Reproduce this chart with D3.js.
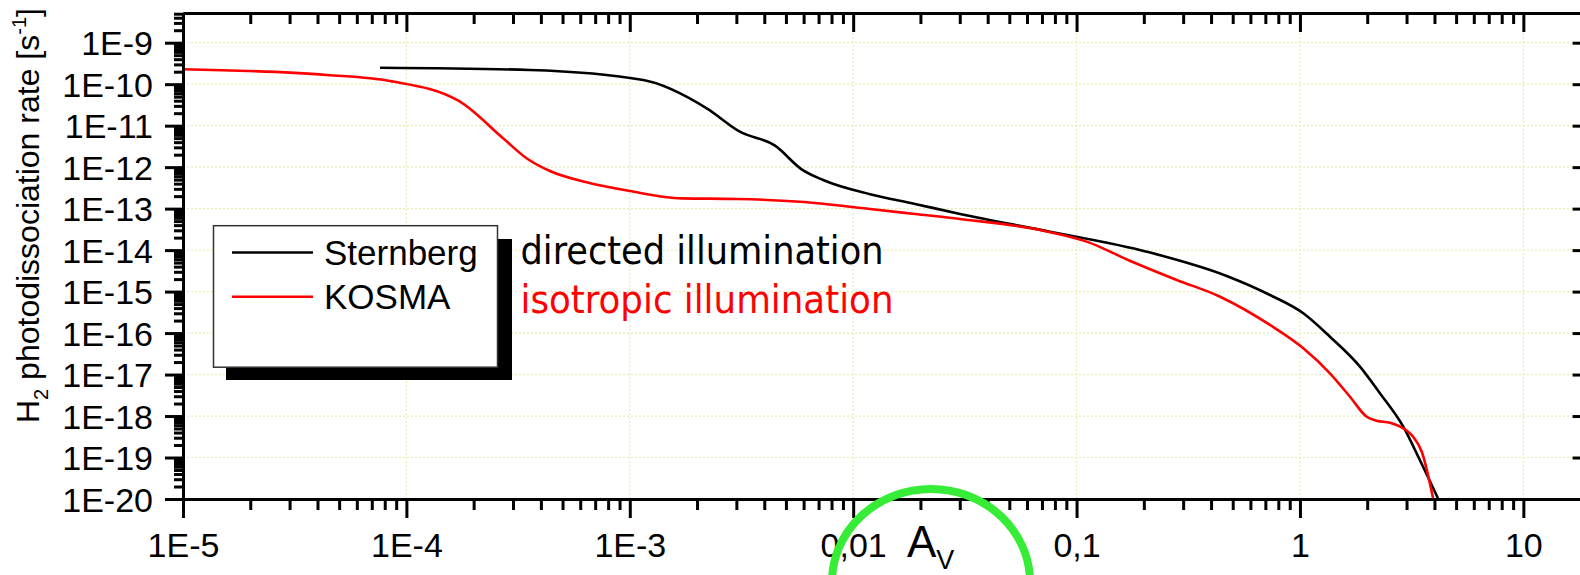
<!DOCTYPE html>
<html>
<head>
<meta charset="utf-8">
<script src="https://cdn.jsdelivr.net/npm/d3@7"></script>
<style>
  body { margin: 0; background: #fff; }
  svg { display: block; }
</style>
</head>
<body>
<div id="chart"></div>
<script>
// A_V (x) and H2 photodissociation rate (y)
const sternbergAv = [7.62e-5, 3.57e-4, 1.15e-3, 2.21e-3, 3.11e-3, 4.47e-3, 5.88e-3, 7.34e-3, 1.19e-2, 1.89e-2, 3.01e-2, 7.60e-2, 0.206, 0.470, 0.734, 1.035, 1.362, 1.856, 2.28, 2.90, 3.44, 4.16];
const sternbergRate = [2.50e-10, 2.20e-10, 1.26e-10, 2.62e-11, 7.16e-12, 3.29e-12, 8.87e-13, 4.89e-13, 2.22e-13, 1.30e-13, 7.43e-14, 2.78e-14, 9.16e-15, 2.38e-15, 8.28e-16, 3.00e-16, 8.18e-17, 1.55e-17, 3.53e-18, 5.53e-19, 8.71e-20, 1.0e-20];

const kosmaAv = [1e-5, 4.40e-5, 8.44e-5, 1.71e-4, 2.71e-4, 3.45e-4, 4.39e-4, 6.41e-4, 1.0e-3, 1.71e-3, 3.01e-3, 5.78e-3, 1.19e-2, 1.89e-2, 3.01e-2, 7.10e-2, 0.111, 0.173, 0.281, 0.439, 0.734, 1.035, 1.362, 1.674, 1.989, 2.20, 2.53, 2.95, 3.21, 3.51, 3.95];
const kosmaRate = [2.29e-10, 1.67e-10, 1.19e-10, 4.00e-11, 4.97e-12, 1.64e-12, 8.07e-13, 4.31e-13, 2.66e-13, 1.77e-13, 1.71e-13, 1.47e-13, 9.79e-14, 7.43e-14, 5.62e-14, 2.94e-14, 1.60e-14, 5.56e-15, 1.91e-15, 7.53e-16, 1.57e-16, 4.30e-17, 1.07e-17, 2.92e-18, 9.64e-19, 7.73e-19, 6.90e-19, 4.78e-19, 3.18e-19, 1.38e-19, 1.0e-20];

const xTickValues = [1e-5, 1e-4, 1e-3, 1e-2, 1e-1, 1, 10];
const xTickLabels = ["1E-5", "1E-4", "1E-3", "0,01", "0,1", "1", "10"];
const yTickValues = [1e-20, 1e-19, 1e-18, 1e-17, 1e-16, 1e-15, 1e-14, 1e-13, 1e-12, 1e-11, 1e-10, 1e-9];
const yTickLabels = ["1E-20", "1E-19", "1E-18", "1E-17", "1E-16", "1E-15", "1E-14", "1E-13", "1E-12", "1E-11", "1E-10", "1E-9"];

const seriesNames = ["Sternberg", "KOSMA"];
const seriesColors = ["#000000", "#ff0000"];
const notes = ["directed illumination", "isotropic illumination"];

const width = 1580, height = 575;
const plotLeft = 183, plotRight = 1590.6, plotTop = 13, plotBottom = 499;

const svg = d3.select("#chart").append("svg")
    .attr("width", width)
    .attr("height", height);

const x = d3.scaleLog().domain([1e-5, 20]).range([plotLeft, plotRight]);
const y = d3.scaleLog().domain([1e-20, 5.2e-9]).range([plotBottom, plotTop]);

// minor tick positions (2..9 in every decade)
const minorX = [], minorY = [];
for (let e = -5; e <= 1; e++) {
    for (let m = 2; m <= 9; m++) {
        const v = m * Math.pow(10, e);
        if (v < 20) minorX.push(v);
    }
}
for (let e = -20; e <= -9; e++) {
    for (let m = 2; m <= 9; m++) {
        const v = m * Math.pow(10, e);
        if (v < 5.2e-9) minorY.push(v);
    }
}

// dotted grid
const grid = svg.append("g");
grid.selectAll("line.gy")
    .data(yTickValues.slice(1))
    .enter().append("line")
    .attr("x1", plotLeft).attr("x2", plotRight)
    .attr("y1", d => y(d)).attr("y2", d => y(d))
    .attr("stroke", "#ecebb4").attr("stroke-width", 1.2)
    .attr("stroke-dasharray", "2,2");
grid.selectAll("line.gx")
    .data(xTickValues.slice(1))
    .enter().append("line")
    .attr("x1", d => x(d)).attr("x2", d => x(d))
    .attr("y1", plotTop).attr("y2", plotBottom)
    .attr("stroke", "#ecebb4").attr("stroke-width", 1.2)
    .attr("stroke-dasharray", "2,2");

// curves
svg.append("clipPath").attr("id", "clip")
    .append("rect").attr("x", plotLeft).attr("y", plotTop)
    .attr("width", plotRight - plotLeft).attr("height", plotBottom - plotTop + 1);

const line = d3.line()
    .x(d => x(d[0]))
    .y(d => y(d[1]))
    .curve(d3.curveMonotoneX);

const series = [
    d3.zip(sternbergAv, sternbergRate),
    d3.zip(kosmaAv, kosmaRate)
];

svg.append("g").attr("clip-path", "url(#clip)")
    .selectAll("path")
    .data(series)
    .enter().append("path")
    .attr("d", line)
    .attr("fill", "none")
    .attr("stroke", (d, i) => seriesColors[i])
    .attr("stroke-width", 2.6)
    .attr("stroke-linejoin", "round");

// axes
function styleAxis(g) {
    g.select(".domain").attr("stroke", "#000").attr("stroke-width", 3);
    g.selectAll(".tick line").attr("stroke", "#000").attr("stroke-width", 3);
    g.selectAll("text")
        .attr("fill", "#000")
        .attr("font-family", "'Liberation Sans', Arial, sans-serif")
        .attr("font-size", 34);
}

// bottom
svg.append("g").attr("transform", `translate(0,${plotBottom})`)
    .call(d3.axisBottom(x).tickValues(minorX).tickSize(11).tickSizeOuter(0).tickFormat(""))
    .call(styleAxis);
const bx = svg.append("g").attr("transform", `translate(0,${plotBottom})`)
    .call(d3.axisBottom(x).tickValues(xTickValues).tickSize(19).tickSizeOuter(0)
        .tickFormat((d, i) => xTickLabels[i]))
    .call(styleAxis);
bx.selectAll("text").attr("y", 58).attr("dy", 0);

// top
svg.append("g").attr("transform", `translate(0,${plotTop})`)
    .call(d3.axisTop(x).tickValues(minorX).tickSize(-11).tickSizeOuter(0).tickFormat(""))
    .call(styleAxis);
svg.append("g").attr("transform", `translate(0,${plotTop})`)
    .call(d3.axisTop(x).tickValues(xTickValues).tickSize(-19).tickSizeOuter(0).tickFormat(""))
    .call(styleAxis);

// left
svg.append("g").attr("transform", `translate(${plotLeft},0)`)
    .call(d3.axisLeft(y).tickValues(minorY).tickSize(9).tickSizeOuter(0).tickFormat(""))
    .call(styleAxis);
const ly = svg.append("g").attr("transform", `translate(${plotLeft},0)`)
    .call(d3.axisLeft(y).tickValues(yTickValues).tickSize(18).tickSizeOuter(0)
        .tickFormat((d, i) => yTickLabels[i]))
    .call(styleAxis);
ly.selectAll("text").attr("x", -30).attr("dy", "0.36em");

// right
svg.append("g").attr("transform", `translate(${plotRight},0)`)
    .call(d3.axisRight(y).tickValues(minorY).tickSize(-9).tickSizeOuter(0).tickFormat(""))
    .call(styleAxis);
svg.append("g").attr("transform", `translate(${plotRight},0)`)
    .call(d3.axisRight(y).tickValues(yTickValues).tickSize(-18).tickSizeOuter(0).tickFormat(""))
    .call(styleAxis);

// y axis title
const yt = svg.append("text")
    .attr("transform", "translate(38.5,423) rotate(-90)")
    .attr("font-family", "'Liberation Sans', Arial, sans-serif")
    .attr("font-size", 32)
    .attr("fill", "#000");
yt.append("tspan").text("H");
yt.append("tspan").attr("font-size", 20).attr("dy", 9).text("2");
yt.append("tspan").attr("dy", -9).text(" photodissociation rate [s");
yt.append("tspan").attr("font-size", 20).attr("dy", -13).text("-1");
yt.append("tspan").attr("dy", 13).text("]");

// x axis title
const xt = svg.append("text")
    .attr("x", 907).attr("y", 557)
    .attr("font-family", "'Liberation Sans', Arial, sans-serif")
    .attr("fill", "#000");
xt.append("tspan").attr("font-size", 44).text("A");
xt.append("tspan").attr("font-size", 27).attr("dy", 12).text("V");

// legend
const legend = svg.append("g");
legend.append("rect")
    .attr("x", 226).attr("y", 239).attr("width", 286).attr("height", 141)
    .attr("fill", "#000");
legend.append("rect")
    .attr("x", 213.5).attr("y", 225.7).attr("width", 284).attr("height", 141.5)
    .attr("fill", "#fff").attr("stroke", "#333").attr("stroke-width", 1.5);
const rows = legend.selectAll("g.row")
    .data(seriesNames)
    .enter().append("g")
    .attr("transform", (d, i) => `translate(0,${252.5 + i * 44.3})`);
rows.append("line")
    .attr("x1", 232).attr("x2", 313)
    .attr("stroke", (d, i) => seriesColors[i])
    .attr("stroke-width", 2.4);
rows.append("text")
    .attr("x", 324).attr("y", 12.5)
    .attr("font-family", "'Liberation Sans', Arial, sans-serif")
    .attr("font-size", 35)
    .attr("fill", "#000")
    .text(d => d);

// annotations
svg.selectAll("text.note")
    .data(notes)
    .enter().append("text")
    .attr("class", "note")
    .attr("x", 520.5)
    .attr("y", (d, i) => 264 + i * 49)
    .attr("font-family", "'DejaVu Sans Condensed', 'DejaVu Sans', sans-serif")
    .attr("font-stretch", "condensed")
    .attr("font-size", 39)
    .attr("textLength", (d, i) => [363, 373][i])
    .attr("lengthAdjust", "spacingAndGlyphs")
    .attr("fill", (d, i) => seriesColors[i])
    .text(d => d);

// green marker ellipse around A_V
svg.append("ellipse")
    .attr("cx", 931).attr("cy", 582)
    .attr("rx", 99).attr("ry", 93)
    .attr("fill", "none")
    .attr("stroke", "#36ec36")
    .attr("stroke-width", 8);
</script>
</body>
</html>
